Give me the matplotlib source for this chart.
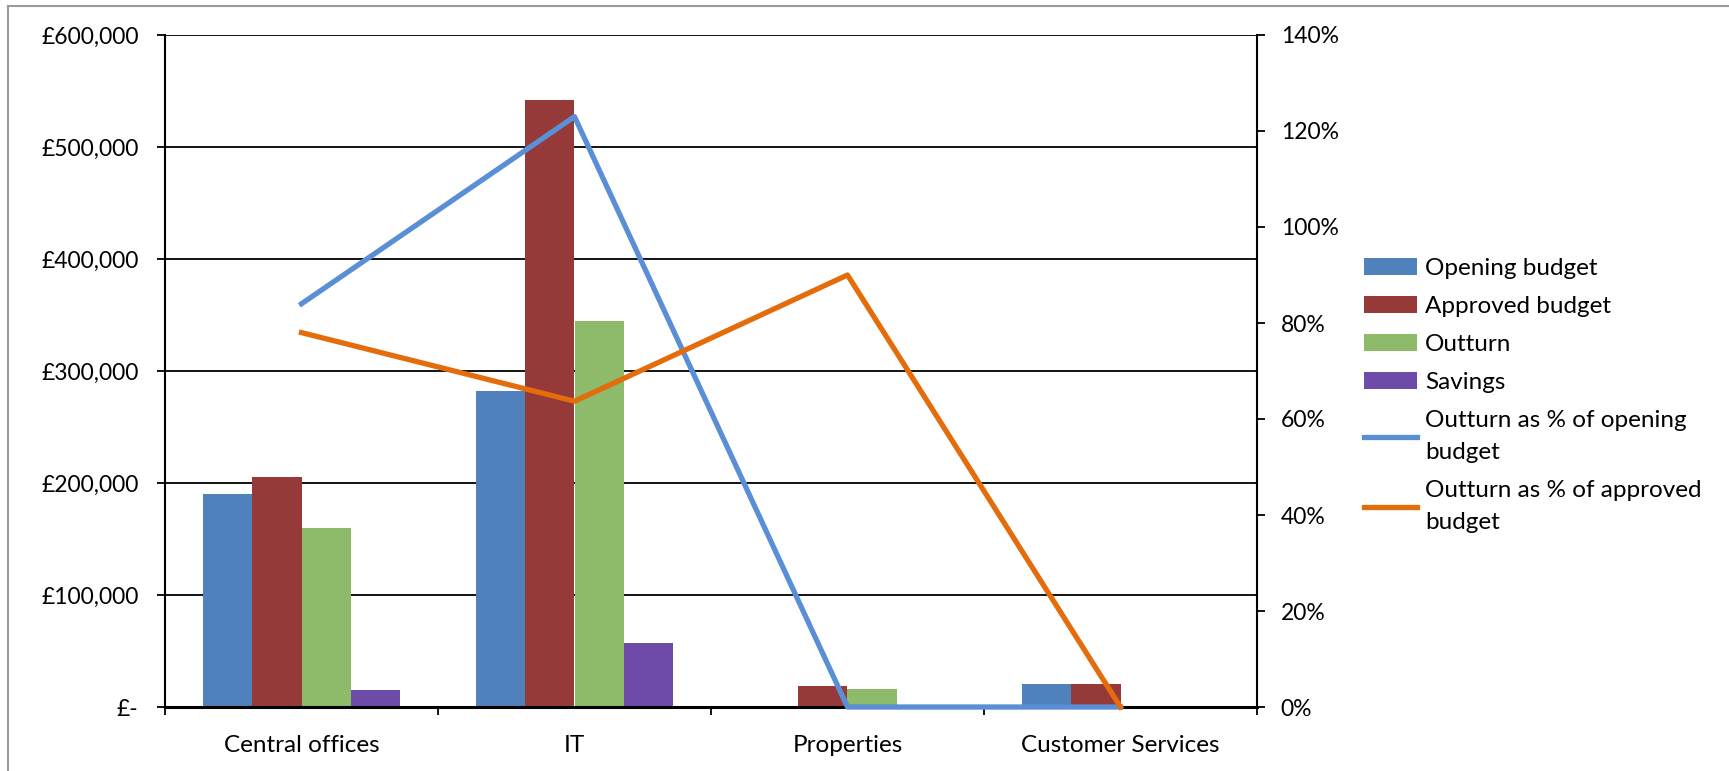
import matplotlib.pyplot as plt
import matplotlib.ticker as mticker
from matplotlib.lines import Line2D
import numpy as np

plt.rcParams['font.family'] = ['Lato', 'DejaVu Sans']

categories = ["Central offices", "IT", "Properties", "Customer Services"]
opening_budget = [190000, 282000, 0, 20500]
approved_budget = [205000, 542000, 18500, 20500]
outturn = [160000, 345000, 16500, 0]
savings = [15000, 57000, 0, 0]
pct_of_opening = [0.84, 1.23, 0.0, 0.0]
pct_of_approved = [0.78, 0.637, 0.90, 0.0]

bar_series = [
    ("Opening budget", opening_budget, "#4F81BD"),
    ("Approved budget", approved_budget, "#953A39"),
    ("Outturn", outturn, "#8DBB69"),
    ("Savings", savings, "#6E4BA8"),
]
line_series = [
    ("Outturn as % of opening\nbudget", pct_of_opening, "#5A8FD6"),
    ("Outturn as % of approved\nbudget", pct_of_approved, "#E46C0A"),
]

W, H = 1729, 771
fig = plt.figure(figsize=(W / 100, H / 100), dpi=100)
ax = fig.add_axes([165 / W, 1 - 707 / H, (1257 - 165) / W, (707 - 35) / H])

# outer chart frame
fig.add_artist(Line2D([8 / W, 8 / W], [0, 1 - 6 / H], color="#9a9a9a", lw=1.5))
fig.add_artist(Line2D([8 / W, 1], [1 - 6 / H, 1 - 6 / H], color="#9a9a9a", lw=1.5))

x = np.arange(len(categories))
width = 0.18
for i, (name, vals, color) in enumerate(bar_series):
    ax.bar(x + (i - 1.5) * width, vals, width, color=color, label=name, zorder=2)

ax.set_xlim(-0.5, len(categories) - 0.5)
ax.set_ylim(0, 600000)
ax.yaxis.set_major_locator(mticker.MultipleLocator(100000))
ax.yaxis.set_major_formatter(mticker.FuncFormatter(
    lambda v, p: "£-" if v == 0 else f"£{v:,.0f}"))
ax.grid(axis="y", color="black", lw=1.3)
ax.set_axisbelow(True)

ax.set_xticks(x)
ax.set_xticklabels(categories)
ax.set_xticks(np.arange(-0.5, len(categories)), minor=True)
ax.tick_params(axis="x", which="major", length=0, pad=20, labelsize=17.5)
ax.tick_params(axis="x", which="minor", length=6, width=1.3, direction="out")
ax.tick_params(axis="y", length=6, width=1.3, labelsize=16.5, pad=13)

for s in ["top", "right"]:
    ax.spines[s].set_visible(False)
ax.spines["left"].set_linewidth(1.5)
ax.spines["bottom"].set_linewidth(2.2)

ax2 = ax.twinx()
for name, vals, color in line_series:
    ax2.plot(x, vals, color=color, lw=3.8, label=name, clip_on=False, zorder=5)
ax2.set_ylim(0, 1.4)
ax2.yaxis.set_major_locator(mticker.MultipleLocator(0.2))
ax2.yaxis.set_major_formatter(mticker.PercentFormatter(1.0, decimals=0))
ax2.tick_params(axis="y", length=6, width=1.3, labelsize=16.5, pad=11)
for s in ["top", "left", "bottom"]:
    ax2.spines[s].set_visible(False)
ax2.spines["right"].set_linewidth(1.5)

h1, l1 = ax.get_legend_handles_labels()
h2, l2 = ax2.get_legend_handles_labels()
leg = fig.legend(h1 + h2, l1 + l2, loc="upper left",
                 bbox_to_anchor=(1364 / W, 1 - 258 / H), frameon=False,
                 fontsize=17.5, handlelength=2.2, handletextpad=0.3,
                 labelspacing=0.7, borderpad=0, borderaxespad=0)
for t in leg.get_texts():
    t.set_linespacing(1.65)

fig.savefig("out.png", dpi=100)
